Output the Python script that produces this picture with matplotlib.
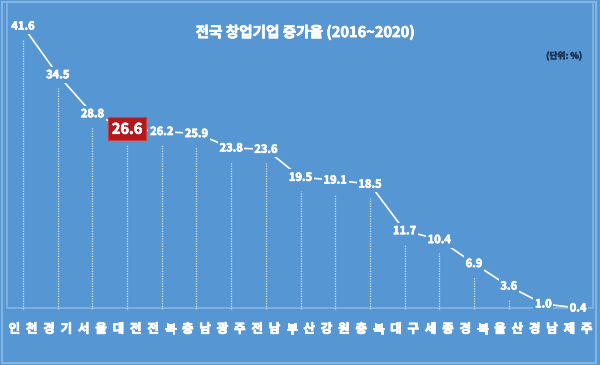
import matplotlib.pyplot as plt
import matplotlib.patheffects as pe
from matplotlib.patches import Rectangle

plt.rcParams['font.family'] = ['Noto Sans CJK KR', 'DejaVu Sans']

# 지역별 창업기업 증가율 (2016~2020), 단위: %
regions = ['인천', '경기', '서울', '대전', '전북', '충남', '광주', '전남', '부산',
           '강원', '충북', '대구', '세종', '경북', '울산', '경남', '제주']
growth = [41.6, 34.5, 28.8, 26.6, 26.2, 25.9, 23.8, 23.6, 19.5,
          19.1, 18.5, 11.7, 10.4, 6.9, 3.6, 1.0, 0.4]
highlight = '대전'

bg = '#5696d3'
frame = '#84b4e2'


def bold(color, w=0.5):
    return [pe.withStroke(linewidth=w, foreground=color)]


fig = plt.figure(figsize=(6, 3.65), dpi=100)
fig.patch.set_facecolor(bg)
ax = fig.add_axes([0, 0, 1, 1])
ax.set_xlim(-0.663, 16.633)
ax.set_ylim(-7.93, 45.42)
ax.axis('off')

# frames
fig.patches.append(Rectangle((0.004, 0.006), 0.99, 0.988, transform=fig.transFigure,
                             fill=False, edgecolor=frame, lw=1.5, zorder=-1))
fig.patches.append(Rectangle((0.012, 0.156), 0.976, 0.838, transform=fig.transFigure,
                             fill=False, edgecolor=frame, lw=1.2, zorder=-1))

x = list(range(len(regions)))
ax.plot(x, growth, color='white', lw=1.2, zorder=2)

for i, (name, v) in enumerate(zip(regions, growth)):
    top = v - 2.0 if name != highlight else v - 2.4
    if top > 0.3:
        ax.plot([i, i], [0.3, top], color='white', lw=0.9, ls=(0, (1, 1)),
                alpha=0.75, zorder=1)
    if name == highlight:
        ax.text(i, v, f'{v:.1f}', ha='center', va='center', color='white',
                fontsize=10.5, fontweight='bold', zorder=4, path_effects=bold('white'),
                bbox=dict(boxstyle='square,pad=0.25', fc='#b3191c', ec='#c94040', lw=0.8))
    else:
        ax.text(i, v, f'{v:.1f}', ha='center', va='center', color='white',
                fontsize=8, fontweight='bold', zorder=3, path_effects=bold('white'),
                bbox=dict(boxstyle='square,pad=0.15', fc=bg, ec='none'))
    for k, ch in enumerate(name):
        ax.text(i - 0.25 + 0.5 * k, -2.7, ch, ha='center', va='center', color='white',
                fontsize=9, fontweight='bold', path_effects=bold('white', 0.6))

fig.text(0.508, 0.912, '전국 창업기업 증가율 (2016~2020)', ha='center', va='center',
         color='white', fontsize=10.5, fontweight='bold', path_effects=bold('white'))
fig.text(0.940, 0.846, '(단위: %)', ha='center', va='center',
         color='#1f3556', fontsize=6.3, fontweight='bold', path_effects=bold('#1f3556', 0.4))

fig.savefig('out.png', dpi=100, facecolor=bg)
